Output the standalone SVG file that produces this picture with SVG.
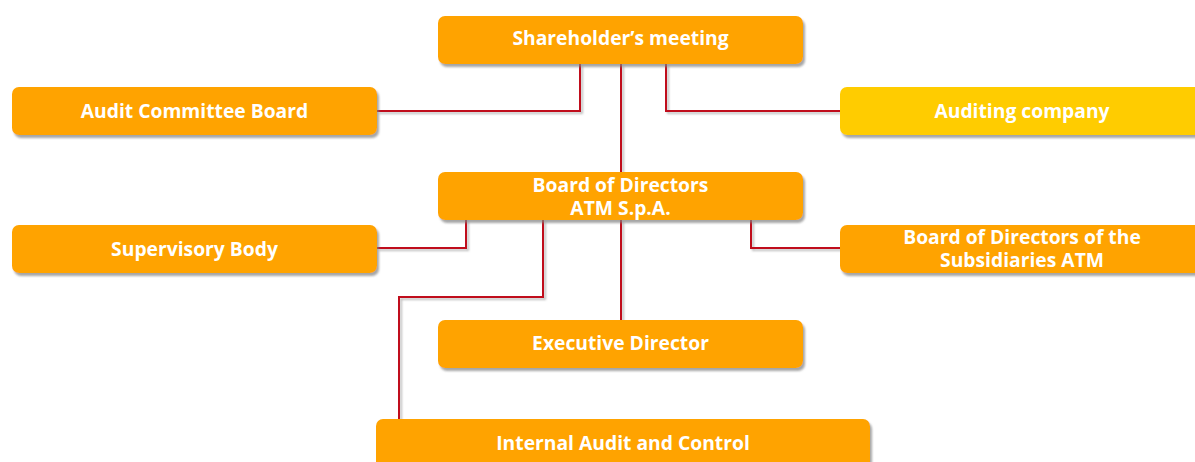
<svg xmlns="http://www.w3.org/2000/svg" width="1195" height="462" viewBox="0 0 1195 462">
  <defs>
    <filter id="shadow" x="-5%" y="-20%" width="110%" height="150%">
      <feDropShadow dx="2" dy="3" stdDeviation="1" flood-color="#808080" flood-opacity="0.7"/>
    </filter>
    <filter id="lineShadow" filterUnits="userSpaceOnUse" x="0" y="0" width="1195" height="462">
      <feDropShadow dx="2" dy="2" stdDeviation="0.8" flood-color="#909090" flood-opacity="0.6"/>
    </filter>
  </defs>
  <style>
    .box { fill: #FFA305; filter: url(#shadow); }
    .box.yellow { fill: #FFCC05; }
    .label { fill: #ffffff; font-family: "Open Sans", "Lato", sans-serif; font-weight: bold; font-size: 19.3px; text-anchor: middle; }
    .conn { fill: none; stroke: #C0101A; stroke-width: 2; filter: url(#lineShadow); }
  </style>

  <!-- connectors -->
  <g id="connectors">
    <polyline class="conn" points="580,64 580,111 377,111"/>
    <polyline class="conn" points="666,64 666,111 840,111"/>
    <polyline class="conn" points="621,64 621,172"/>
    <polyline class="conn" points="621,220 621,320"/>
    <polyline class="conn" points="466,220 466,248 377,248"/>
    <polyline class="conn" points="751,220 751,248 840,248"/>
    <polyline class="conn" points="543,220 543,297 399,297 399,419"/>
  </g>

  <g id="shareholders">
    <rect class="box" x="438" y="16" width="365" height="48" rx="7"/>
    <text class="label" x="620.5" y="45">Shareholder’s meeting</text>
  </g>

  <g id="audit-committee">
    <rect class="box" x="12" y="87" width="365" height="48" rx="7"/>
    <text class="label" x="194.5" y="118">Audit Committee Board</text>
  </g>

  <g id="auditing-company">
    <rect class="box yellow" x="840" y="87" width="370" height="48" rx="7"/>
    <text class="label" x="1022" y="118">Auditing company</text>
  </g>

  <g id="board">
    <rect class="box" x="438" y="172" width="365" height="48" rx="7"/>
    <text class="label" x="620.5" y="192">Board of Directors</text>
    <text class="label" x="620.5" y="215">ATM S.p.A.</text>
  </g>

  <g id="supervisory">
    <rect class="box" x="12" y="225" width="365" height="48" rx="7"/>
    <text class="label" x="194.5" y="256">Supervisory Body</text>
  </g>

  <g id="subsidiaries">
    <rect class="box" x="840" y="225" width="370" height="48" rx="7"/>
    <text class="label" x="1022" y="244">Board of Directors of the</text>
    <text class="label" x="1022" y="267">Subsidiaries ATM</text>
  </g>

  <g id="executive">
    <rect class="box" x="438" y="320" width="365" height="48" rx="7"/>
    <text class="label" x="620.5" y="350">Executive Director</text>
  </g>

  <g id="internal-audit">
    <rect class="box" x="376" y="419" width="494" height="60" rx="7"/>
    <text class="label" x="623" y="450">Internal Audit and Control</text>
  </g>
</svg>
